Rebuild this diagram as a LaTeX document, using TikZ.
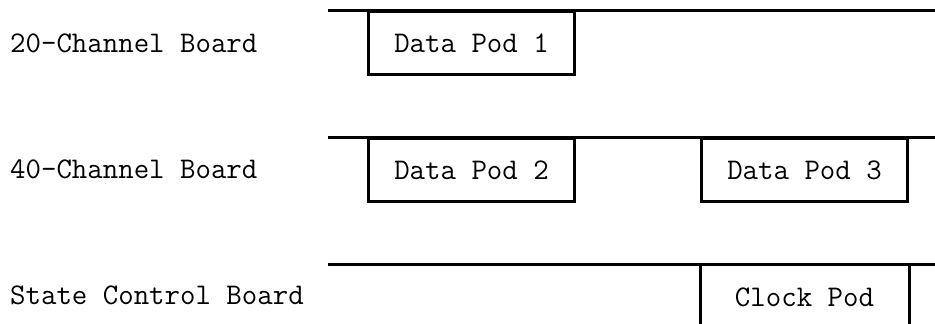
\documentclass[tikz,border=0pt]{standalone}
\usepackage{fontspec}
\usetikzlibrary{positioning}
\begin{document}
\begin{tikzpicture}[x=1pt,y=-1pt,
    board/.style={line width=3pt},
    pod/.style={draw,line width=3pt,anchor=north west,inner sep=0pt,
      minimum width=206pt,minimum height=63pt,font=\ttfamily\fontsize{30}{32}\selectfont},
    lbl/.style={anchor=base west,inner sep=0pt,font=\ttfamily\fontsize{30}{32}\selectfont}]
                \clip (0,0) rectangle (935,324);
                \path (10,52) node[lbl] (b20) {20-Channel Board};
                \path (10,178) node[lbl] (b40) {40-Channel Board};
                \path (10,304) node[lbl] (bsc) {State Control Board};
                \coordinate (l1a) at (328,10);  \coordinate (l1b) at (940,10);
                \coordinate (l2a) at (328,137); \coordinate (l2b) at (940,137);
                \coordinate (l3a) at (328,264); \coordinate (l3b) at (940,264);
                \coordinate (bot) at (0,340);
                \path (367,10) node[pod] (dp1) {Data Pod 1};
                \path (367,137) node[pod] (dp2) {Data Pod 2};
                \path (700,137) node[pod] (dp3) {Data Pod 3};
                \path (700,264) node[pod,draw=none] (clk) {Clock Pod};
                \draw[board] (l1a) -- (l1b);
                \draw[board] (l2a) -- (l2b);
                \draw[board] (l3a) -- (l3b);
                \draw[board] (clk.north west) -- (clk.north west |- bot);
                \draw[board] (clk.north east) -- (clk.north east |- bot);
              \end{tikzpicture}
\end{document}
